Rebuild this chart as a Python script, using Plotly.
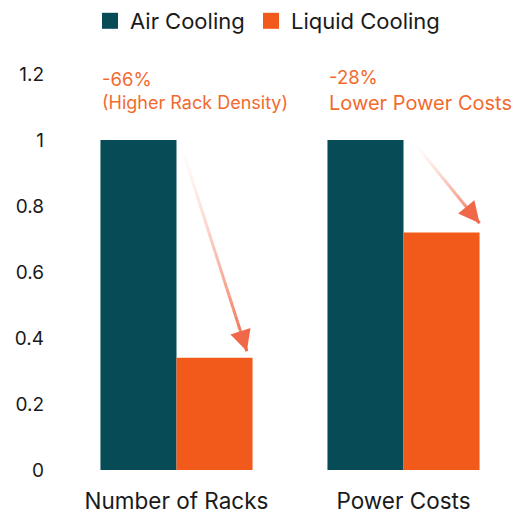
import plotly.graph_objects as go

categories = ["Number of Racks", "Power Costs"]
air_cooling = [1.0, 1.0]
liquid_cooling = [0.34, 0.72]
change_pcts = ["-66%", "-28%"]
change_notes = ["(Higher Rack Density)", "Lower Power Costs"]
note_sizes = [18, 20]

AIR = "#074B56"
LIQUID = "#F15A1A"
TEXT_ORANGE = "#F26A2E"
ARROW_RGB = (240, 104, 72)
FONT = "Inter, Roboto, sans-serif"
Y_MAX = 1.2

fig = go.Figure()
fig.add_bar(name="Air Cooling", x=categories, y=air_cooling, marker_color=AIR,
            marker_line_width=0, showlegend=False)
fig.add_bar(name="Liquid Cooling", x=categories, y=liquid_cooling, marker_color=LIQUID,
            marker_line_width=0, showlegend=False)

# Legend entries with larger square swatches, one legend box each
for name, color, leg in [("Air Cooling", AIR, "legend"), ("Liquid Cooling", LIQUID, "legend2")]:
    fig.add_scatter(x=[None], y=[None], mode="markers", name=name, legend=leg,
                    marker=dict(symbol="square", size=16, color=color))

half_bar = 0.335  # each bar occupies this fraction of a category slot

# Fading arrows from the top of the air bar down to the liquid bar
arrow_specs = [
    # (start x offset, start y, tip x offset, tip clearance above bar)
    (0.015, 0.995, 0.31, 0.02),
    (0.048, 0.99, 0.335, 0.028),
]
n_seg = 30
for i, (sx_off, sy, tx_off, gap) in enumerate(arrow_specs):
    x0 = i + sx_off
    y0 = sy
    x1 = i + tx_off
    y1 = liquid_cooling[i] + gap
    for k in range(n_seg):
        t0 = k / n_seg
        t1 = (k + 1) / n_seg
        alpha = t1 ** 1.5
        fig.add_shape(
            type="line", xref="x", yref="y",
            x0=x0 + (x1 - x0) * t0, y0=y0 + (y1 - y0) * t0,
            x1=x0 + (x1 - x0) * t1, y1=y0 + (y1 - y0) * t1,
            line=dict(color=f"rgba({ARROW_RGB[0]},{ARROW_RGB[1]},{ARROW_RGB[2]},{alpha:.3f})",
                      width=3),
        )
    # arrowhead at the tip
    fig.add_annotation(
        x=x1, y=y1, xref="x", yref="y",
        ax=x0 + (x1 - x0) * 0.9, ay=y0 + (y1 - y0) * 0.9, axref="x", ayref="y",
        showarrow=True, arrowhead=2, arrowsize=1.4, arrowwidth=3,
        arrowcolor=f"rgb({ARROW_RGB[0]},{ARROW_RGB[1]},{ARROW_RGB[2]})",
        text="",
    )

for i, (pct, note) in enumerate(zip(change_pcts, change_notes)):
    fig.add_annotation(
        x=i - half_bar, y=1.15 / Y_MAX, xref="x", yref="paper",
        xanchor="left", yanchor="middle", align="left",
        text=f"<span style='font-size:18.5px'>{pct}</span><br>{note}",
        showarrow=False,
        font=dict(family=FONT, size=note_sizes[i], color=TEXT_ORANGE),
    )

legend_style = dict(orientation="h", xref="container", xanchor="left",
                    yref="container", y=1.0, yanchor="top",
                    font=dict(family=FONT, size=22, color="#1a1a1a"),
                    itemwidth=30)

fig.update_layout(
    width=517, height=514,
    margin=dict(l=63, r=0, t=74, b=44),
    plot_bgcolor="white", paper_bgcolor="white",
    barmode="group", bargap=0.33, bargroupgap=0,
    font=dict(family=FONT, color="#1a1a1a"),
    legend=dict(x=90 / 517, **legend_style),
    legend2=dict(x=251 / 517, **legend_style),
    xaxis=dict(showgrid=False, showline=False, ticks="", ticklabelstandoff=15,
               tickfont=dict(family=FONT, size=22.5, color="#1a1a1a")),
    yaxis=dict(range=[0, Y_MAX], dtick=0.2, showgrid=False, zeroline=False,
               showline=False, ticks="", ticklabelstandoff=18,
               tickformat="~g",
               tickfont=dict(family=FONT, size=19, color="#1a1a1a")),
    showlegend=True,
)

fig.write_html("out.html")
